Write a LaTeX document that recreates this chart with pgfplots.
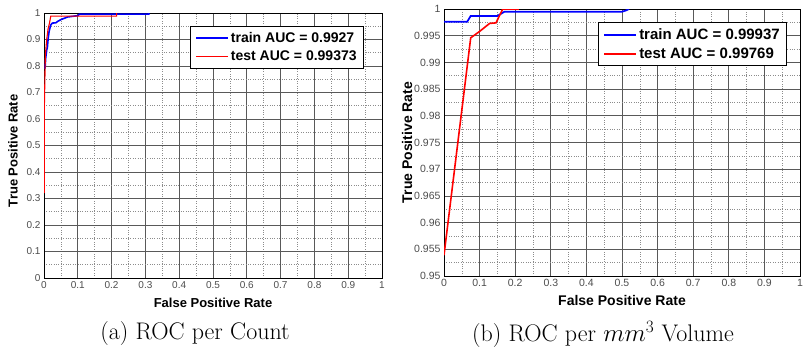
\documentclass[border=0pt]{standalone}
\usepackage{fontspec}
\usepackage{pgfplots}
\pgfplotsset{compat=1.18}
\newfontfamily\arial{Liberation Sans}

\pgfplotsset{
 rocstyle/.style={
  scale only axis, enlargelimits=false, xmin=0, xmax=1,
  xtick={0,0.1,0.2,0.3,0.4,0.5,0.6,0.7,0.8,0.9,1},
  minor tick num=1, grid=both,
  major grid style={black!65, line width=0.75pt},
  minor grid style={black!45, dotted, line width=0.6pt},
  axis line style={black, line width=0.8pt},
  tick style={draw=none},
  /pgf/number format/assume math mode=true,
  /pgf/number format/precision=3,
  legend cell align=left,
  legend style={draw=black, line width=0.9pt, fill=white, inner xsep=5pt, inner ysep=4pt, row sep=3pt,
    /tikz/every even column/.append style={column sep=1pt}},
  legend image code/.code={\draw[##1] (0pt,0pt) -- (32pt,0pt);},
 }
}

\begin{document}
\begin{tikzpicture}
\path[use as bounding box, clip] (0pt,0pt) rectangle (804pt,349pt);

% ---------------- (a) ----------------
\begin{axis}[rocstyle,
  at={(44pt,71pt)}, anchor=south west, width=338pt, height=265pt,
  ymin=0, ymax=1,
  ytick={0,0.1,0.2,0.3,0.4,0.5,0.6,0.7,0.8,0.9,1},
  tick label style={font=\arial\fontsize{10}{12}\selectfont, text=black!70},
  label style={font=\arial\bfseries\fontsize{13}{15}\selectfont},
  xlabel={False Positive Rate}, ylabel={True Positive Rate},
  xlabel style={at={(axis description cs:0.5,0)}, anchor=center, yshift=-25pt},
  ylabel style={at={(axis description cs:-0.0917,0.48)}, anchor=center},
  legend style={at={(0.947,0.951)}, anchor=north east,
    font=\arial\bfseries\fontsize{14}{16}\selectfont},
]
\addplot[blue, line width=1.6pt] coordinates {
 (0.003,0.79) (0.005,0.83) (0.008,0.86) (0.010,0.87) (0.012,0.90) (0.015,0.93)
 (0.020,0.955) (0.025,0.962) (0.035,0.963) (0.040,0.968) (0.050,0.975)
 (0.060,0.980) (0.070,0.985) (0.100,0.990) (0.105,0.996) (0.310,0.996) (0.310,1.0)
};
\addlegendentry{train AUC = 0.9927}
\addplot[red, line width=1.1pt] coordinates {
 (0.001,0.32) (0.001,0.64) (0.004,0.84) (0.008,0.90) (0.012,0.94) (0.016,0.96)
 (0.020,0.988) (0.215,0.988) (0.215,1.0)
};
\addlegendentry{test AUC = 0.99373}
\end{axis}

% ---------------- (b) ----------------
\begin{axis}[rocstyle,
  at={(444pt,73pt)}, anchor=south west, width=356pt, height=267pt,
  ymin=0.95, ymax=1,
  ytick={0.95,0.955,0.96,0.965,0.97,0.975,0.98,0.985,0.99,0.995,1},
  tick label style={font=\arial\fontsize{10.5}{12}\selectfont, text=black!70},
  label style={font=\arial\bfseries\fontsize{14}{16}\selectfont},
  xlabel={False Positive Rate}, ylabel={True Positive Rate},
  xlabel style={at={(axis description cs:0.5,0)}, anchor=center, yshift=-24pt},
  ylabel style={at={(axis description cs:-0.1039,0.5)}, anchor=center},
  legend style={at={(0.964,0.951)}, anchor=north east,
    font=\arial\bfseries\fontsize{15}{17}\selectfont},
]
\addplot[blue, line width=1.7pt] coordinates {
 (0,0.9976) (0.065,0.9976) (0.075,0.9987) (0.150,0.9987) (0.170,0.9995)
 (0.500,0.9995) (0.510,0.9997) (0.520,1.0)
};
\addlegendentry{train AUC = 0.99937}
\addplot[red, line width=1.6pt] coordinates {
 (0,0.9539) (0.075,0.9946) (0.100,0.9958) (0.128,0.9973) (0.146,0.9974)
 (0.165,1.0) (0.210,1.0)
};
\addlegendentry{test AUC = 0.99769}
\end{axis}

\node[font=\fontsize{24}{28}\selectfont] at (195pt,15pt) {(a) ROC per Count};
\node[font=\fontsize{24}{28}\selectfont] at (603pt,15pt) {(b) ROC per $mm^3$ Volume};
\end{tikzpicture}
\end{document}
